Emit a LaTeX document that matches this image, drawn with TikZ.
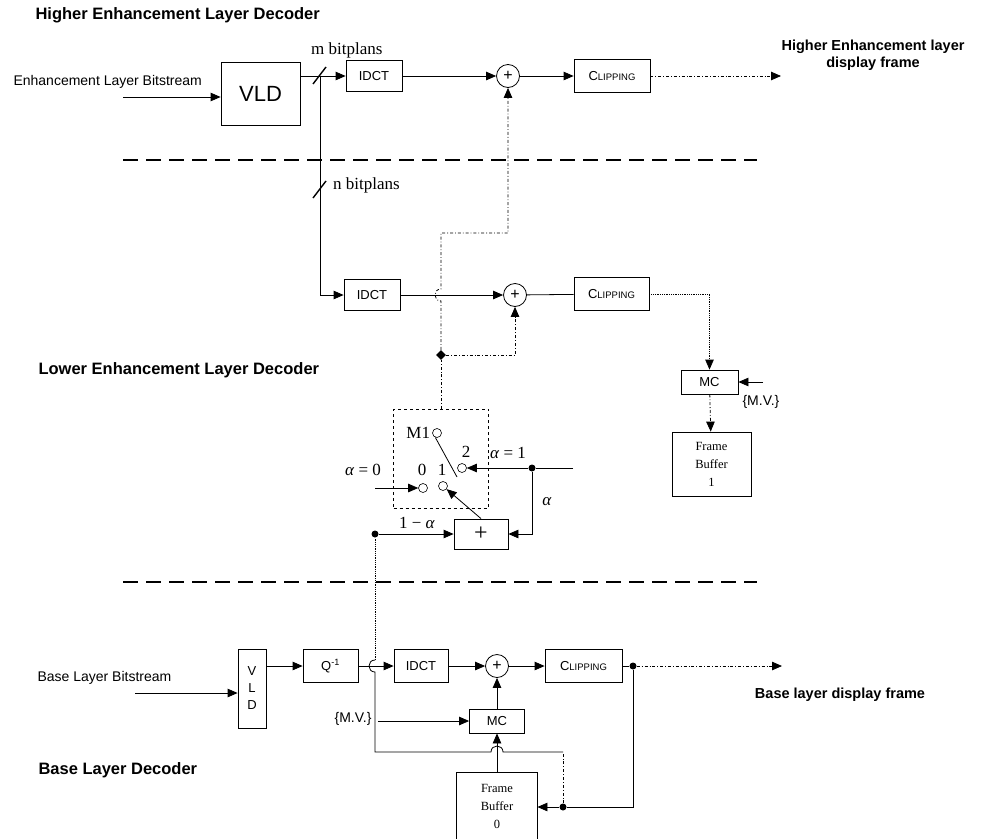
\documentclass[tikz,border=0pt]{standalone}
\usepackage{fontspec}
\setmainfont{Liberation Serif}
\setsansfont{Liberation Sans}
\usetikzlibrary{positioning}
\usetikzlibrary{arrows.meta}
\usetikzlibrary{calc}
\usetikzlibrary{shapes.geometric}

\newcommand{\cliptext}{C{\fontsize{9.5}{11}\selectfont LIPPING}}

\begin{document}
\begin{tikzpicture}[x=1pt, y=-1pt,
    box/.style={draw, line width=0.8pt, inner sep=0pt, font=\sffamily\fontsize{13}{15}\selectfont},
    fbox/.style={box, align=center, font=\fontsize{12.5}{18}\selectfont},
    sum/.style={draw, circle, line width=0.8pt, minimum size=23pt, inner sep=0pt, font=\sffamily\fontsize{16}{16}\selectfont},
    port/.style={draw, circle, line width=0.6pt, minimum size=9pt, inner sep=0pt},
    dot/.style={circle, fill, minimum size=7pt, inner sep=0pt},
    arrow/.style={-{Triangle[length=10pt,width=8.5pt]}, line width=0.8pt},
    wire/.style={line width=0.8pt},
    septline/.style={line width=2.6pt, dash pattern=on 15pt off 8pt},
    hdr/.style={anchor=west, font=\sffamily\bfseries\fontsize{16.5}{19}\selectfont},
    txt/.style={font=\sffamily\fontsize{14}{16}\selectfont},
    outlabel/.style={align=center, font=\sffamily\bfseries\fontsize{14.5}{17}\selectfont},
    sym/.style={inner sep=1pt, font=\fontsize{17}{19}\selectfont}
]
\useasboundingbox (0,0) rectangle (981,838);

% Higher enhancement layer
\node[hdr] (tHigh) at (32,15) {Higher Enhancement Layer Decoder};
\node[txt, anchor=west] (inHtxt) at (10,82) {Enhancement Layer Bitstream};
\coordinate (inH) at (123,97);
\node[box, minimum width=79pt, minimum height=63pt, font=\sffamily\fontsize{22}{26}\selectfont] (vldH) at (260.5,93.5) {VLD};
\coordinate (split) at (320,76);
\node[box, minimum width=56pt, minimum height=31pt] (idctH) at (374,76) {IDCT};
\node[sum] (sumH) at (508,76) {+};
\node[box, minimum width=76pt, minimum height=33pt] (clipH) at (612,76) {\cliptext};
\coordinate (outH) at (781,76);
\node[outlabel] (outHtxt) at (873,55) {Higher Enhancement layer\\display frame};
\node[sym, anchor=west] (mTxt) at (310,50) {m bitplans};

\draw[wire] (vldH.east |- split) -- (split);
\draw[arrow] (split) -- (idctH);
\draw[arrow] (inH) -- (inH -| vldH.west);
\draw[arrow] (idctH) -- (sumH);
\draw[arrow] (sumH) -- (clipH);
\draw[arrow, dash dot] (clipH) -- (outH);
\draw[line width=1.4pt] (313,84) -- (326,67);

\draw[septline] (123,160) -- (757,160);

% Lower enhancement layer
\node[sym, anchor=west] (nTxt) at (332,185) {n bitplans};
\draw[line width=1.4pt] (313,198) -- (326,181);
\node[hdr] (tLow) at (35,370) {Lower Enhancement Layer Decoder};
\node[box, minimum width=56pt, minimum height=31pt] (idctL) at (372,295) {IDCT};
\node[sum] (sumL) at (515,295) {+};
\node[box, minimum width=75pt, minimum height=33pt] (clipL) at (611.5,294) {\cliptext};
\node[box, minimum width=57pt, minimum height=24pt] (mcL) at (709.5,382) {MC};
\coordinate (mvL) at (763,382);
\node[txt, anchor=west] (mvLtxt) at (739,402) {\{M.V.\}};
\node[fbox, minimum width=79pt, minimum height=64pt] (fb1) at (711.5,464) {Frame\\Buffer\\1};

\draw[arrow] (split) |- (idctL);
\draw[arrow] (idctL) -- (sumL);
\draw[wire] (sumL) -- (clipL);
\draw[arrow, densely dotted] (clipL) -| (mcL);
\draw[arrow] (mvL) -- (mcL);
\draw[arrow, dash dot] (mcL) -- (fb1);

% switch M1
\node[box, dashed, minimum width=95pt, minimum height=99pt] (sw) at (441,458.5) {};
\node[port] (cM) at (437,433) {};
\node[sym, left=1pt of cM] (mLbl) {M1};
\node[port] (c2) at (462,468) {};
\node[sym] (l2) at (466,452) {2};
\node[port] (c0) at (423,488) {};
\node[sym] (l0) at (422,470) {0};
\node[port] (c1) at (443,486) {};
\node[sym] (l1) at (442,470) {1};
\draw[wire] (cM.250) -- (457,477);

\node[box, minimum width=54pt, minimum height=30pt, font=\fontsize{24}{24}\selectfont] (plusB) at (481,534) {+};
\node[dot] (jA1) at (532,468) {};
\coordinate (inA) at (573,468);
\node[dot] (jA) at (375,534) {};
\coordinate (in0) at (375,488);

\draw[wire] (inA) -- (jA1);
\draw[arrow] (jA1) -- (c2);
\draw[arrow] (jA1) |- (plusB);
\draw[arrow] (in0) -- (c0);
\draw[arrow] (plusB.north) -- (c1);
\draw[arrow] (jA) -- (plusB);

\node[sym] (a0) at (363,470) {\textit{α} = 0};
\node[sym] (a1) at (508,453) {\textit{α} = 1};
\node[sym] (aa) at (547,502) {\textit{α}};
\node[sym] (am) at (417,523) {1 − \textit{α}};

% feedback to the adders
\node[dot, diamond, minimum size=10pt] (jL) at (441,355) {};
\coordinate (hopL) at (441,295);
\coordinate (turnH) at (441,233);
\draw[wire, dash dot] (sw.north) -- (jL);
\draw[arrow, dash dot] (jL) -| (sumL);
\draw[arrow, dash dot] (jL) -- ($(hopL)+(0,6)$) .. controls ($(hopL)+(-8,6)$) and ($(hopL)+(-8,-6)$) .. ($(hopL)+(0,-6)$) -- (turnH) -| (sumH);

\draw[septline] (123,582) -- (757,582);

% Base layer
\node[hdr] (tBase) at (35,770) {Base Layer Decoder};
\node[txt, anchor=west] (inBtxt) at (34,678) {Base Layer Bitstream};
\coordinate (inB) at (135,693);
\node[box, minimum width=28pt, minimum height=79pt, align=center, font=\sffamily\fontsize{13}{17}\selectfont] (vldB) at (252,688.5) {V\\L\\D};
\node[box, minimum width=55pt, minimum height=33pt] (qB) at (330.5,666) {Q\textsuperscript{-1}};
\node[box, minimum width=54pt, minimum height=33pt] (idctB) at (421,666) {IDCT};
\node[sum] (sumB) at (497,666) {+};
\node[box, minimum width=77pt, minimum height=33pt] (clipB) at (583.5,666) {\cliptext};
\node[dot] (jC) at (633,666) {};
\coordinate (outB) at (782,666);
\node[outlabel] (outBtxt) at (840,695) {Base layer display frame};
\node[box, minimum width=55pt, minimum height=24pt] (mcB) at (497,721) {MC};
\coordinate (mvB) at (378,721);
\node[txt, anchor=east] (mvBtxt) at (375,719) {\{M.V.\}};
\node[fbox, draw=none, minimum width=80pt, minimum height=66pt] (fb0) at (497,806) {Frame\\Buffer\\0};
\draw[wire] (fb0.south west) |- (fb0.north east) -- (fb0.south east);
\node[dot] (jF) at (563,807) {};
\coordinate (turnF) at (563,752);
\coordinate (hopF) at (497,752);
\coordinate (turnA) at (375,752);
\coordinate (hopB) at (375,666);

\draw[arrow] (inB) -- (inB -| vldB.west);
\draw[arrow] (vldB.east |- qB) -- (qB);
\draw[arrow] (qB) -- (idctB);
\draw[arrow] (idctB) -- (sumB);
\draw[arrow] (sumB) -- (clipB);
\draw[wire] (clipB) -- (jC);
\draw[arrow, dash dot] (jC) -- (outB);
\draw[arrow] (mvB) -- (mcB);
\draw[arrow] (mcB) -- (sumB);
\draw[arrow] (fb0.north) -- (mcB);
\draw[wire] (jC) |- (jF);
\draw[arrow] (jF) -- (jF -| fb0.east);
\draw[wire, dash dot] (jF) -- (turnF);
\draw[wire] (turnF) -- ($(hopF)+(6,0)$) .. controls ($(hopF)+(6,-8)$) and ($(hopF)+(-6,-8)$) .. ($(hopF)+(-6,0)$) -- (turnA) -- ($(hopB)+(0,6)$) .. controls ($(hopB)+(-8,6)$) and ($(hopB)+(-8,-6)$) .. ($(hopB)+(0,-6)$);
\draw[wire, densely dotted] ($(hopB)+(0,-6)$) -- (jA);

\end{tikzpicture}
\end{document}
